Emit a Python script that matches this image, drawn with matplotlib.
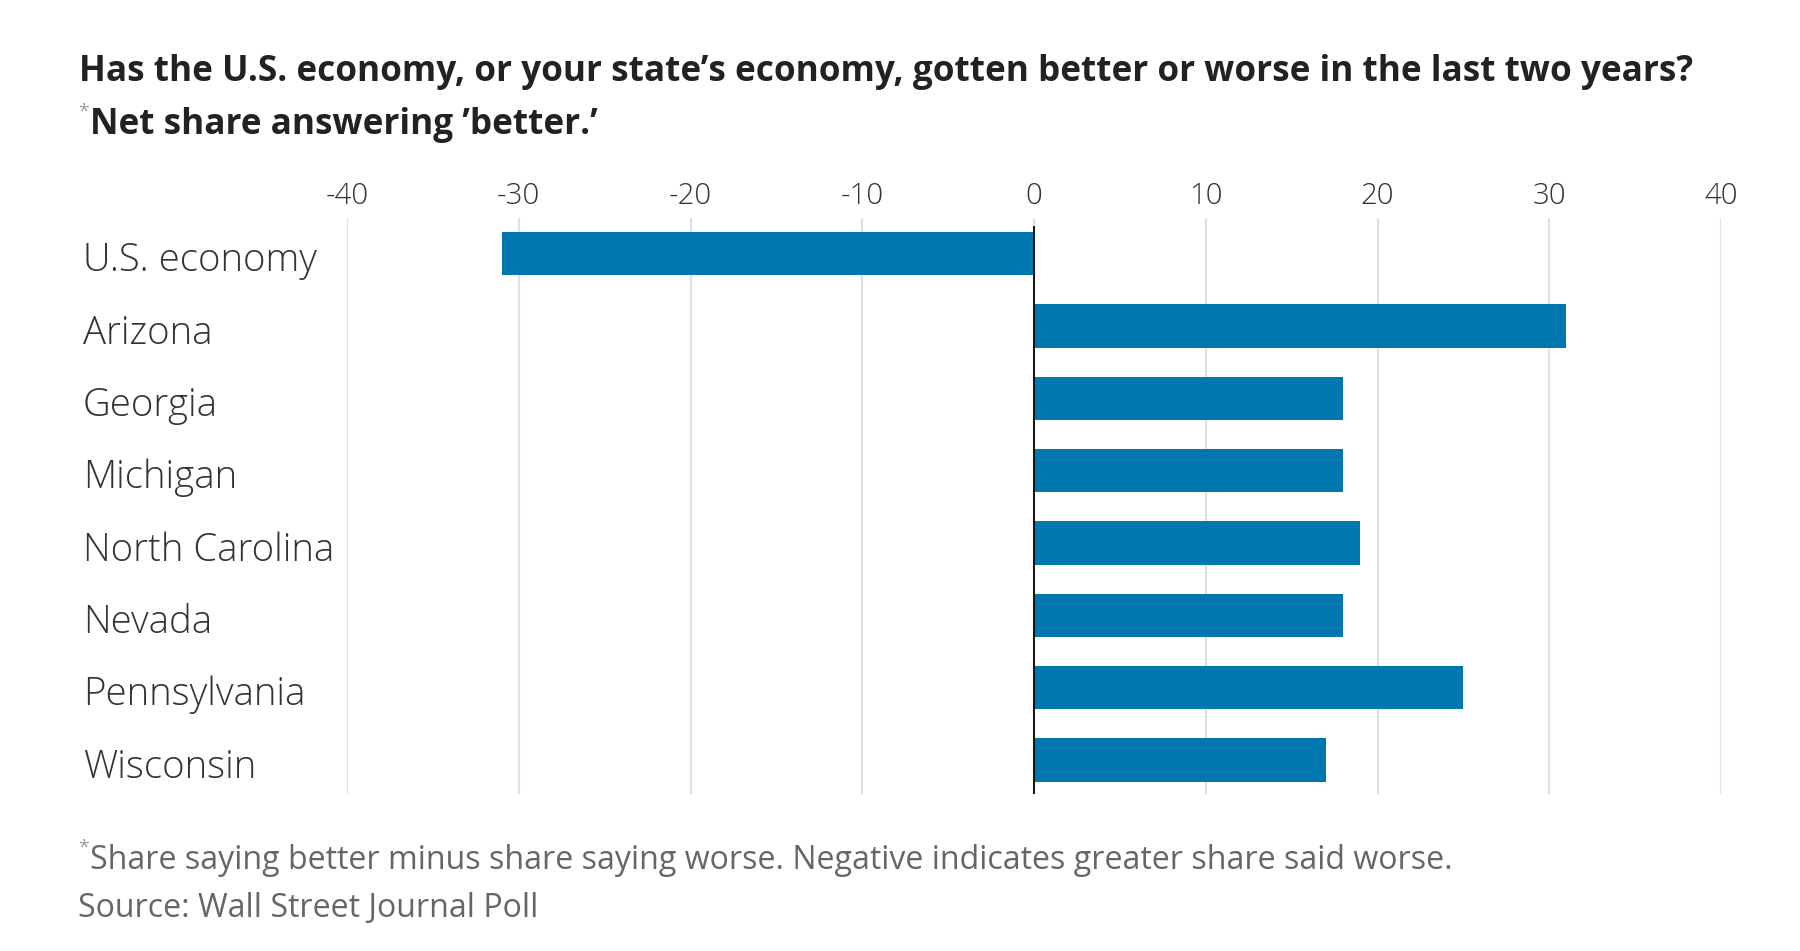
import matplotlib
matplotlib.use("Agg")
import matplotlib.pyplot as plt
from matplotlib.transforms import ScaledTranslation

# ---- data ----
categories = ["U.S. economy", "Arizona", "Georgia", "Michigan",
              "North Carolina", "Nevada", "Pennsylvania", "Wisconsin"]
values = [-31, 31, 18, 18, 19, 18, 25, 17]
xticks = [-40, -30, -20, -10, 0, 10, 20, 30, 40]
xtick_labels = ["-40", "-30", "-20", "-10", "0", "10", "20", "30", "40"]
title_text = "Has the U.S. economy, or your state\u2019s economy, gotten better or worse in the last two years?"
subtitle_text = "Net share answering \u2019better.\u2019"
footnote_text = "Share saying better minus share saying worse. Negative indicates greater share said worse."
source_text = "Source: Wall Street Journal Poll"

FONT = ["Open Sans", "DejaVu Sans"]
plt.rcParams["font.family"] = FONT

BAR = "#0077ae"
DARK = "#222222"
LABEL = "#333333"
GRAY = "#666666"
GRID = "#e1e1e1"

W, H = 1800, 951
fig = plt.figure(figsize=(W / 100, H / 100), dpi=100)
fig.patch.set_facecolor("white")
renderer = fig.canvas.get_renderer()


def fit_width(txt, target_px):
    w = txt.get_window_extent(renderer).width
    txt.set_fontsize(txt.get_fontsize() * target_px / w)


def measure_size(s, target_px, **kw):
    t = fig.text(0, 0, s, fontsize=20, **kw)
    w = t.get_window_extent(renderer).width
    fs = 20 * target_px / w
    t.remove()
    return fs


ax = fig.add_axes([347 / W, 1 - 794.4 / H, (1721 - 347) / W, (794.4 - 218) / H])
ypos = list(range(len(categories)))
ax.barh(ypos, values, height=0.6, color=BAR, zorder=2)
ax.set_xlim(-40, 40)
ax.set_ylim(7.476, -0.494)

ax.set_xticks(xticks)
tick_fs = measure_size("-40", 43, fontweight="light")
ax.set_xticklabels(xtick_labels, fontsize=tick_fs, color=LABEL, fontweight="light")
ax.xaxis.tick_top()
ax.tick_params(axis="x", length=0, pad=5)
ax.grid(axis="x", color=GRID, linewidth=1.6, zorder=0)
ax.set_axisbelow(True)

label_fs = measure_size("North Carolina", 252, fontweight="light")
ax.set_yticks(ypos)
ax.set_yticklabels(categories, fontsize=label_fs, color=LABEL, fontweight="light", ha="left")
ax.tick_params(axis="y", length=0, pad=(347 - 83) * 0.72)
shift = ScaledTranslation(0, -3 / 100, fig.dpi_scale_trans)
for lab in ax.get_yticklabels():
    lab.set_transform(lab.get_transform() + shift)

for s in ax.spines.values():
    s.set_visible(False)
ax.axvline(0, ymin=0, ymax=0.985, color="#111111", linewidth=1.4, zorder=3)

# ---- title ----
t1 = fig.text(79 / W, 1 - 81 / H, title_text, fontsize=24, fontweight="bold",
              color=DARK, va="baseline", ha="left")
fit_width(t1, 1690 - 79)
title_fs = t1.get_fontsize()

star1 = fig.text(78 / W, 1 - 117 / H, "*", fontsize=title_fs * 0.55, color="#999999",
                 va="baseline", ha="left")
sx = star1.get_window_extent(renderer).x1
t2 = fig.text((sx + 1) / W, 1 - 134 / H, subtitle_text, fontsize=title_fs, fontweight="bold",
              color=DARK, va="baseline", ha="left")

# ---- footer ----
star2 = fig.text(78 / W, 1 - 853 / H, "*", fontsize=14, color="#999999",
                 va="baseline", ha="left")
sx2 = star2.get_window_extent(renderer).x1
f1 = fig.text((sx2 + 1) / W, 1 - 869 / H, footnote_text, fontsize=18, color=GRAY,
              va="baseline", ha="left")
fit_width(f1, 1449 - sx2 - 1)
f2 = fig.text(78 / W, 1 - 917 / H, source_text, fontsize=f1.get_fontsize(), color=GRAY,
              va="baseline", ha="left")

fig.savefig("out.png", dpi=100, facecolor="white")
